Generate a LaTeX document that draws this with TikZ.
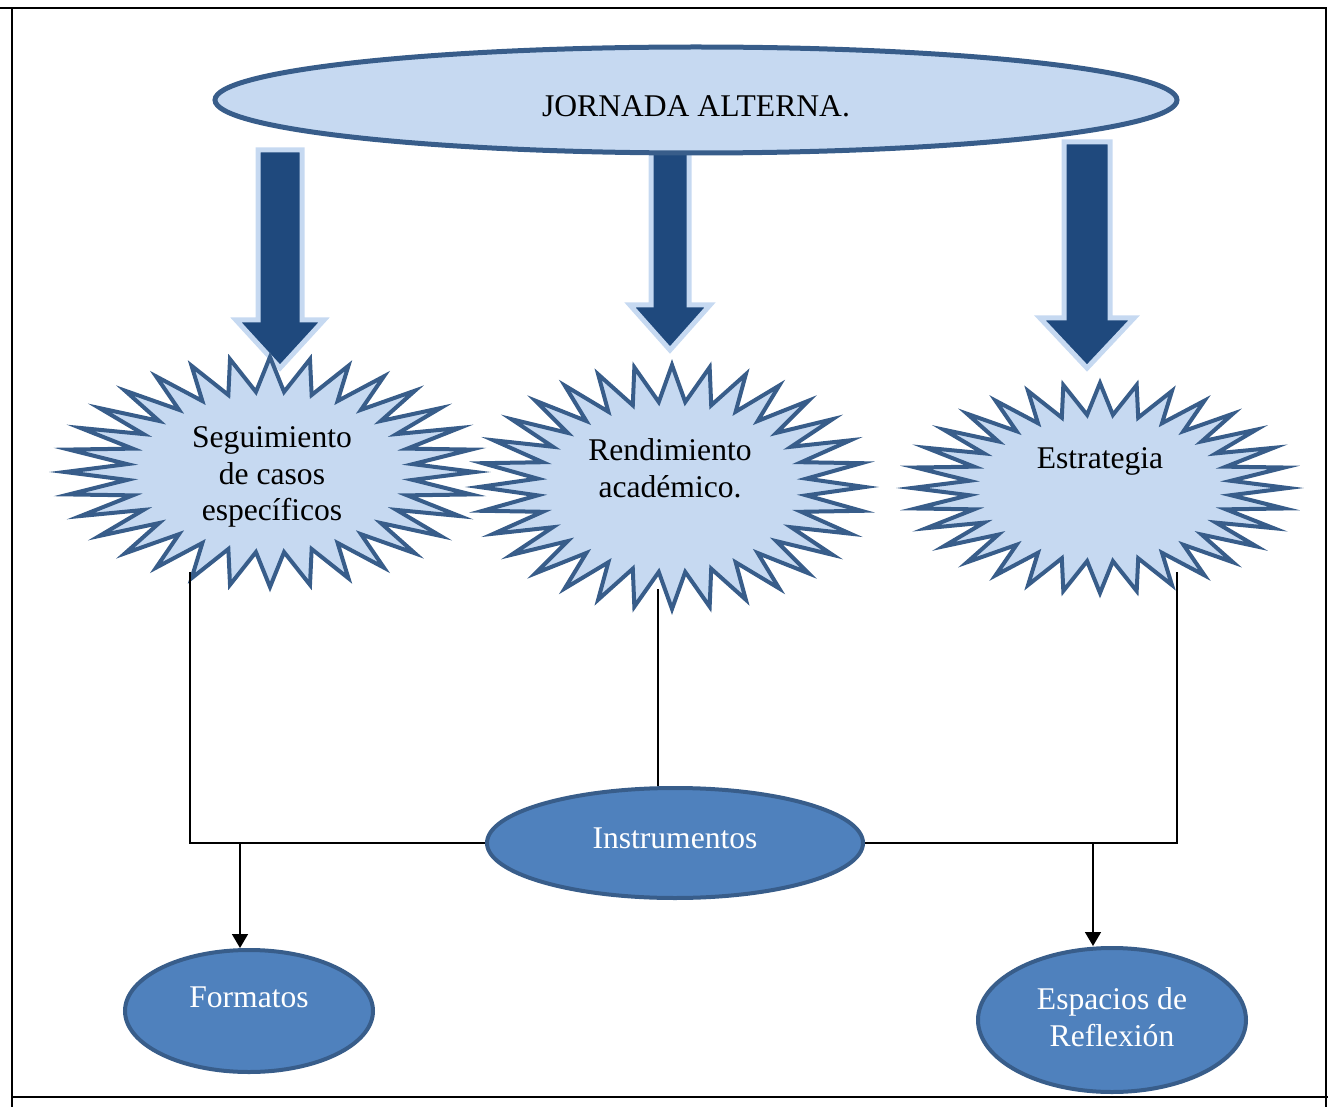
\documentclass[tikz,border=0pt]{standalone}
\usepackage{fontspec}
\setmainfont{Liberation Serif}
\usetikzlibrary{arrows.meta, positioning, shapes.geometric}

\definecolor{paleblue}{HTML}{C6D9F1}
\definecolor{edgeblue}{HTML}{385D8A}
\definecolor{navy}{HTML}{1F497D}
\definecolor{midblue}{HTML}{4F81BD}

% block arrow: centre x, top y, head y, tip y, half shaft, half head
\newcommand{\blockarrow}[6]{%
  \draw[bigarrow] (#1-#5,#2) -- (#1+#5,#2) -- (#1+#5,#3) -- (#1+#6,#3)
    -- (#1,#4) -- (#1-#6,#3) -- (#1-#5,#3) -- cycle;}

% 32 point burst: centre, x radius, y radius
\newcommand{\burst}[3]{%
  \draw[burstline, shift={(#1)}] plot[variable=\k, domain=0:64, samples=65]
    ({#2*(0.85+0.15*cos(\k*180))*cos(\k*5.625+90)},
     {#3*(0.85+0.15*cos(\k*180))*sin(\k*5.625+90)}) -- cycle;}

\begin{document}
\begin{tikzpicture}[x=0.5pt, y=-0.5pt,
  burstline/.style={draw=edgeblue, fill=paleblue, line width=2pt, line join=miter},
  bigarrow/.style={draw=paleblue, fill=navy, line width=2.5pt, line join=miter},
  topoval/.style={ellipse, draw=edgeblue, fill=paleblue, line width=2.5pt, inner sep=0pt},
  darkoval/.style={ellipse, draw=edgeblue, fill=midblue, line width=2pt, inner sep=0pt},
  txt/.style={align=center, font=\fontsize{15.8}{18.3}\selectfont, inner sep=0pt},
  wtxt/.style={txt, text=white},
  link/.style={line width=0.8pt}]

\useasboundingbox (0,0) rectangle (1328,1107);

% table frame
\draw[line width=1pt] (0,8) -- (1326,8) -- (1326,1107);
\draw[line width=1pt] (12,8) -- (12,1107);
\draw[line width=1pt] (12,1097) -- (1328,1097);

% big arrows
\blockarrow{280}{150}{320}{368}{22}{44}
\blockarrow{670}{152}{305}{350}{19}{40}
\blockarrow{1087}{142}{318}{368}{23}{47}

% top
\node[topoval, minimum width=481pt, minimum height=53pt] (jornada) at (696,100) {};
\node[txt] (jornadatxt) at (696,106) {JORNADA ALTERNA.};

% bursts
\coordinate (segc) at (270,472);
\burst{segc}{205}{115}
\node[txt] (seg) at (272,477) {Seguimiento\\de casos\\específicos};

\coordinate (renc) at (672,487);
\burst{renc}{193}{122}
\node[txt] (ren) at (670,468) {Rendimiento\\académico.};

\coordinate (estc) at (1100,488);
\burst{estc}{188}{105}
\node[txt] (est) at (1100,461) {Estrategia};

% bottom ovals
\node[darkoval, minimum width=188pt, minimum height=55pt] (instr) at (675,843) {};
\node[wtxt] (instrtxt) at (675,838) {Instrumentos};

\node[darkoval, minimum width=124pt, minimum height=61pt] (fmt) at (249,1011) {};
\node[wtxt] (fmttxt) at (249,997) {Formatos};

\node[darkoval, minimum width=134pt, minimum height=72pt] (esp) at (1112,1020) {};
\node[wtxt] (esptxt) at (1112,1017) {Espacios de\\Reflexión};

% connectors
\coordinate (segfoot) at (190,572);
\coordinate (renfoot) at (658,589);
\coordinate (estfoot) at (1177,572);
\coordinate (fmtfork) at (240,843);
\coordinate (espfork) at (1093,843);

\draw[link] (segfoot) |- (instr.west);
\draw[link] (renfoot) -- (renfoot |- instr.north);
\draw[link] (estfoot) |- (instr.east);
\draw[link, -{Triangle[width=8pt,length=7pt]}] (fmtfork) -- (fmtfork |- fmt.north);
\draw[link, -{Triangle[width=8pt,length=7pt]}] (espfork) -- (espfork |- esp.north);

\end{tikzpicture}
\end{document}
